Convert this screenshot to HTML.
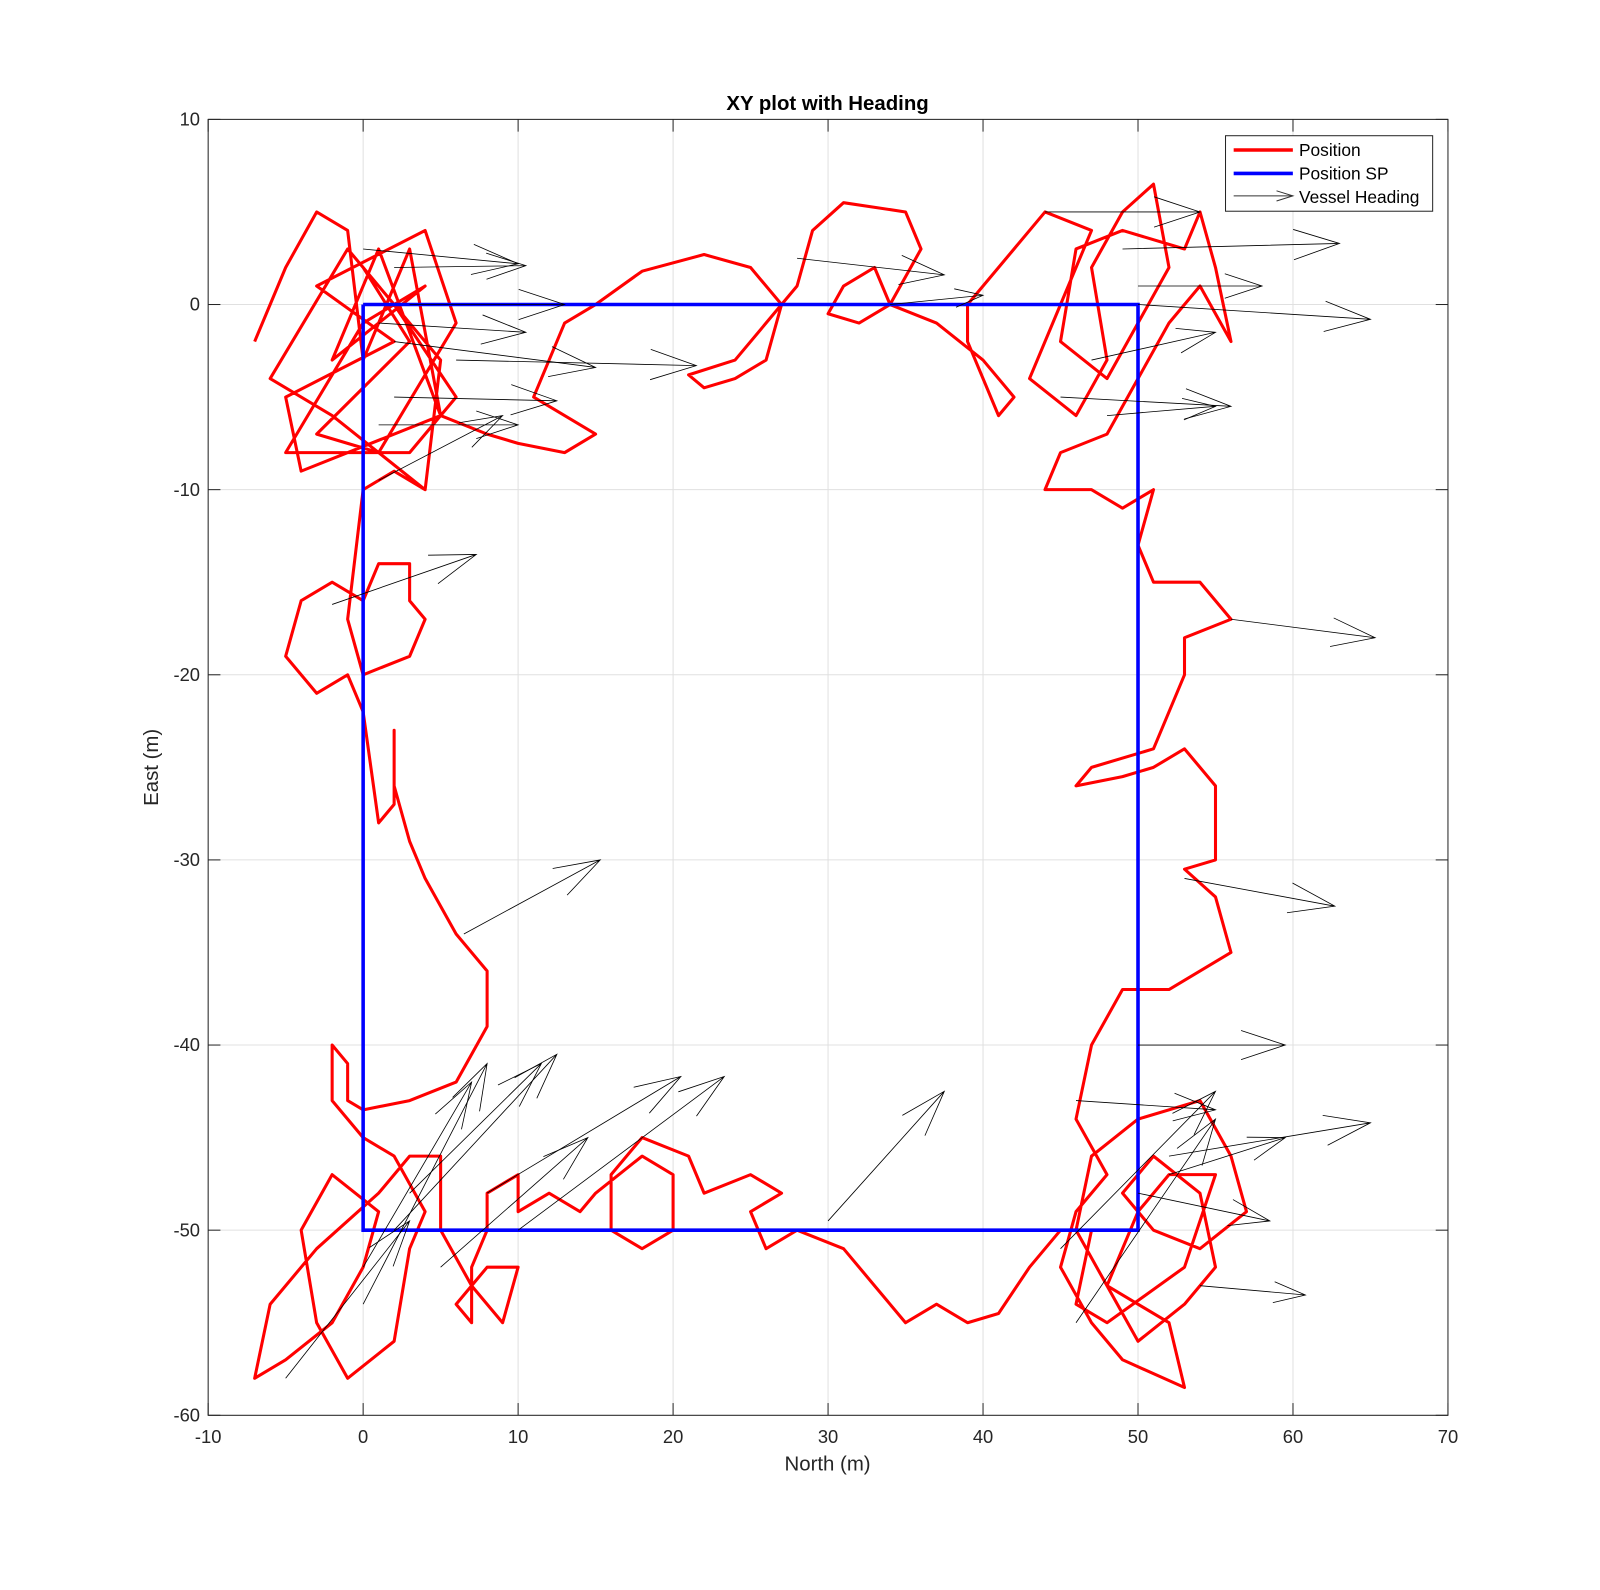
<!DOCTYPE html>
<html><head><meta charset="utf-8"><style>
html,body{margin:0;padding:0;background:#fff;overflow:hidden;width:1600px;height:1590px;font-family:"Liberation Sans",Arial,sans-serif}
svg{display:block}
svg text{font-family:"Liberation Sans",Arial,sans-serif}
</style></head><body>
<svg id="chart" width="1600" height="1590" viewBox="0 0 1568 1558.2" preserveAspectRatio="none" xmlns="http://www.w3.org/2000/svg">
<rect x="0" y="0" width="1568" height="1559" fill="#fff"/>
<g id="grid"></g>
<g id="series"></g>
<rect x="204" y="117" width="1215" height="1270" fill="none" stroke="#262626" stroke-width="1"/>
<g id="ticks"></g>
<text x="811" y="108" text-anchor="middle" font-size="20" font-weight="bold" fill="#000">XY plot with Heading</text>
<text x="811" y="1441" text-anchor="middle" font-size="20" fill="#262626">North (m)</text>
<text transform="translate(155,752) rotate(-90)" text-anchor="middle" font-size="20" fill="#262626">East (m)</text>
<g>
<rect x="1201" y="133" width="203" height="74" fill="#fff" stroke="#262626" stroke-width="1"/>
<line x1="1209" y1="147" x2="1267" y2="147" stroke="#f00" stroke-width="3.5"/>
<text x="1273" y="153" font-size="17" fill="#000">Position</text>
<line x1="1209" y1="170" x2="1267" y2="170" stroke="#00f" stroke-width="3.5"/>
<text x="1273" y="176" font-size="17" fill="#000">Position SP</text>
<line x1="1209" y1="192" x2="1267" y2="192" stroke="#333" stroke-width="1"/>
<polyline points="1251,187 1267,192 1251,197" fill="none" stroke="#333" stroke-width="1"/>
<text x="1273" y="199" font-size="17" fill="#000">Vessel Heading</text>
</g>
</svg>
<script>
const xTicks=[-10,0,10,20,30,40,50,60,70];
const yTicks=[10,0,-10,-20,-30,-40,-50,-60];
const spNorth=[0,50,50,0,0];
const spEast=[0,0,-50,-50,0];
const posNorth=[-7,-5,-3,-1,0,3,5,-4,-5,2,-3,4,6,1,-3,3,0,5,4,-2,-6,-1,2,6,3,-5,0,4,-2,1,5,8,10,13,15,11,13,15,18,22,25,27,26,24,22,21,24,26,28,29,31,35,36,34,32,30,31,33,34,37,40,42,41,39,39,41,44,47,45,43,46,48,47,49,51,52,50,48,45,46,49,53,54,55,56,54,52,50,48,45,44,47,49,51,50,51,54,56,53,53,51,47,46,49,51,53,55,55,53,55,56,52,49,47,46,48,46,45,47,49,53,52,48,46,47,50,54,56,57,54,51,49,51,54,55,53,50,48,50,52,55,53,48,46,47,45,43,41,39,37,35,33,31,28,26,25,27,25,22,21,18,16,16,18,20,20,18,15,14,12,10,10,8,8,7,7,6,8,10,9,7,5,5,3,1,-3,-6,-7,-5,-2,0,1,-2,-4,-3,-1,2,3,4,2,0,-2,-2,-1,-1,0,3,6,8,8,6,4,3,2,2,2,1,0,-1,-3,-5,-4,-2,0,1,3,3,4,3,0,-1,0,2,4];
const posEast=[-2,2,5,4,-3,3,-6,-9,-5,-2,1,4,-1,-8,-7,-2,2,-3,-10,-6,-4,3,0,-5,-8,-8,-1,1,-3,3,-6,-7,-7.5,-8,-7,-5,-1,0,1.8,2.7,2,0,-3,-4,-4.5,-3.8,-3,-1,1,4,5.5,5,3,0,-1,-0.5,1,2,0,-1,-3,-5,-6,-2,0,2,5,4,0,-4,-6,-3,2,5,6.5,2,-1,-4,-2,3,4,3,5,2,-2,1,-1,-4,-7,-8,-10,-10,-11,-10,-13,-15,-15,-17,-18,-20,-24,-25,-26,-25.5,-25,-24,-26,-30,-30.5,-32,-35,-37,-37,-40,-44,-47,-49,-52,-55,-57,-58.5,-55,-53,-50,-46,-44,-43,-46,-49,-51,-50,-48,-46,-48,-52,-54,-56,-53,-49,-47,-47,-52,-55,-54,-50,-50,-52,-54.5,-55,-54,-55,-53,-51,-50,-51,-49,-48,-47,-48,-46,-45,-47,-50,-51,-50,-47,-46,-48,-49,-48,-49,-47,-48,-50,-52,-55,-54,-52,-52,-55,-53,-50,-46,-46,-48,-51,-54,-58,-57,-55,-52,-49,-47,-50,-55,-58,-56,-51,-49,-46,-45,-43,-40,-41,-43,-43.5,-43,-42,-39,-36,-34,-31,-29,-26,-23,-27,-28,-22,-20,-21,-19,-16,-15,-16,-14,-14,-16,-17,-19,-20,-17,-10,-9,-10];
const arrN0=[0,2,3,1,2,6,2,1,1,-2,6.5,28,34,44,49,50,50,47,45,48,56,53,50,46,52,52,50,54,45,46,-5,0,2,3,0,5,8,10,30];
const arrE0=[3,2,0,-1,-2,-3,-5,-6.5,-9.5,-16.2,-34,2.5,0,5,3,1,0,-3,-5,-6,-17,-31,-40,-43,-46,-47,-48,-53,-51,-55,-58,-54,-50,-48,-52,-52,-48,-50,-49.5];
const arrN1=[10,10.5,13,10.5,15,21.5,12.5,10,9,7.3,15.3,37.5,40,54,63,58,65,55,56,55,65.3,62.7,59.5,55,65,59.5,58.5,60.8,55,55,3,8,12.5,11.5,7,14.5,20.5,23.3,37.5];
const arrE1=[2.2,2.1,0,-1.5,-3.4,-3.3,-5.2,-6.5,-6,-13.5,-30,1.6,0.5,5,3.3,1,-0.8,-1.5,-5.5,-5.5,-18,-32.5,-40,-43.5,-44.2,-45,-49.5,-53.5,-42.5,-44,-49.5,-41,-40.5,-41,-42,-45,-41.7,-41.7,-42.5];
const NS="http://www.w3.org/2000/svg";
const X=v=>204+(v+10)*1215/80;
const Y=v=>117+(10-v)*1270/70;
const grid=document.getElementById('grid'),ticks=document.getElementById('ticks'),series=document.getElementById('series');
function mk(tag,attrs,parent){const e=document.createElementNS(NS,tag);for(const k in attrs)e.setAttribute(k,attrs[k]);parent.appendChild(e);return e;}
xTicks.forEach(t=>{
 const g=mk('line',{x1:X(t),x2:X(t),y1:117,y2:1387,stroke:'#e0e0e0','stroke-width':1},grid);
 
 
 const a=mk('line',{x1:X(t),x2:X(t),y1:1387,y2:1375,stroke:'#262626'},ticks);
 
 
 const b=mk('line',{x1:X(t),x2:X(t),y1:117,y2:129,stroke:'#262626'},ticks);
 
 
 const l=mk('text',{x:X(t),y:1414,'text-anchor':'middle','font-size':18,fill:'#262626'},ticks);l.textContent=t;
 
 
});
yTicks.forEach(t=>{
 const g=mk('line',{x1:204,x2:1419,y1:Y(t),y2:Y(t),stroke:'#e0e0e0','stroke-width':1},grid);
 
 
 const a=mk('line',{x1:204,x2:216,y1:Y(t),y2:Y(t),stroke:'#262626'},ticks);
 
 
 const b=mk('line',{x1:1407,x2:1419,y1:Y(t),y2:Y(t),stroke:'#262626'},ticks);
 
 
 const l=mk('text',{x:196,y:Y(t)+6,'text-anchor':'end','font-size':18,fill:'#262626'},ticks);l.textContent=t;
 
 
});
const pos=mk('polyline',{points:posNorth.map((n,i)=>X(n)+','+Y(posEast[i])).join(' '),fill:'none',stroke:'#f00','stroke-width':3,'stroke-linejoin':'round'},series);


const sp=mk('polyline',{points:spNorth.map((n,i)=>X(n)+','+Y(spEast[i])).join(' '),fill:'none',stroke:'#00f','stroke-width':3.5},series);


arrN0.forEach((n,i)=>{
 const x0=X(n),y0=Y(arrE0[i]),x1=X(arrN1[i]),y1=Y(arrE1[i]);
 const dx=x1-x0,dy=y1-y0,L=Math.hypot(dx,dy),ux=dx/L,uy=dy/L,h=Math.min(45,L*0.3),w=h*0.33;
 const p=`M${x0},${y0}L${x1},${y1}M${x1-ux*h-uy*w},${y1-uy*h+ux*w}L${x1},${y1}L${x1-ux*h+uy*w},${y1-uy*h-ux*w}`;
 const a=mk('path',{d:p,fill:'none',stroke:'#000','stroke-width':0.8},series);
 
 
});
</script>
</body></html>
